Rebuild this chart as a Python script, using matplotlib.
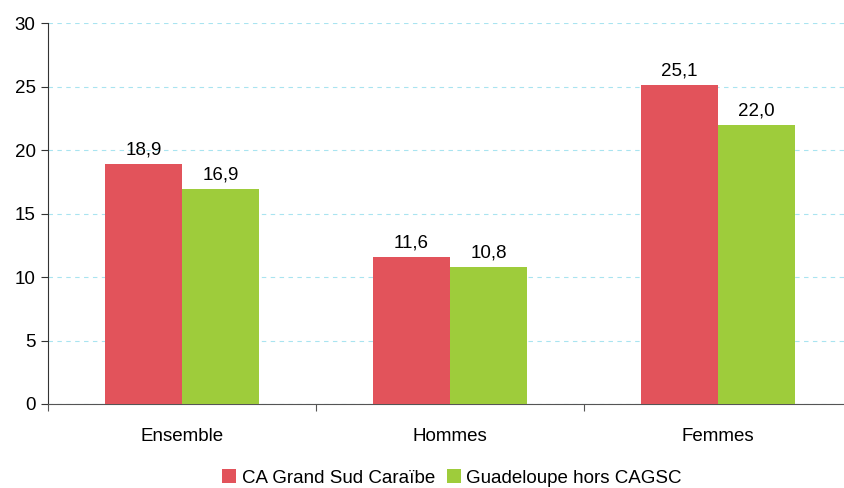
import matplotlib
matplotlib.use("Agg")
import matplotlib.pyplot as plt
import numpy as np

categories = ["Ensemble", "Hommes", "Femmes"]
series_names = ["CA Grand Sud Caraïbe", "Guadeloupe hors CAGSC"]
ca_values = [18.9, 11.6, 25.1]
guad_values = [16.9, 10.8, 22.0]
yticks = [0, 5, 10, 15, 20, 25, 30]

plt.rcParams['font.family'] = ['Liberation Sans', 'DejaVu Sans']
FS = 13.5

fig = plt.figure(figsize=(8.44, 4.88), dpi=100)
ax = fig.add_axes([48/844, 1-404/488, 804/844, (404-23)/488])

centers = np.arange(len(categories)) + 0.5
w = 77/268
red = "#E2535B"
green = "#9ECC3B"
b1 = ax.bar(centers - w/2, ca_values, w, color=red, label=series_names[0], zorder=3)
b2 = ax.bar(centers + w/2, guad_values, w, color=green, label=series_names[1], zorder=3)

def fmt(v):
    return f"{v:.1f}".replace(".", ",")

for bars, vals in ((b1, ca_values), (b2, guad_values)):
    for r, v in zip(bars, vals):
        ax.annotate(fmt(v), (r.get_x() + r.get_width()/2, v), xytext=(0, 4),
                    textcoords="offset points", ha="center", va="bottom", fontsize=FS)

ax.set_xlim(0, 3)
ax.set_ylim(0, 30)
ax.set_yticks(yticks)
ax.set_yticklabels([str(t) for t in yticks], fontsize=FS)
ax.yaxis.grid(True, color="#A9E4F0", linestyle=(0, (4, 4)), linewidth=0.8, zorder=0)
ax.set_xticks([0, 1, 2, 3])
ax.set_xticklabels([])
ax.set_xticks(centers, minor=True)
ax.set_xticklabels(categories, minor=True, fontsize=FS)
ax.tick_params(axis='x', which='minor', length=0, pad=17)
ax.tick_params(axis='x', which='major', length=5, color="#555555")
ax.tick_params(axis='y', length=5, color="#333333", pad=4)
for s in ("top", "right"):
    ax.spines[s].set_visible(False)
ax.spines["left"].set_color("#333333")
ax.spines["bottom"].set_color("#555555")

fig.legend(loc="center", bbox_to_anchor=(452/844, 1-478/488), ncol=2, frameon=False,
           fontsize=FS, handlelength=0.75, handleheight=0.75, handletextpad=0.3,
           columnspacing=0.6, borderpad=0)

fig.savefig("out.png", dpi=100)
